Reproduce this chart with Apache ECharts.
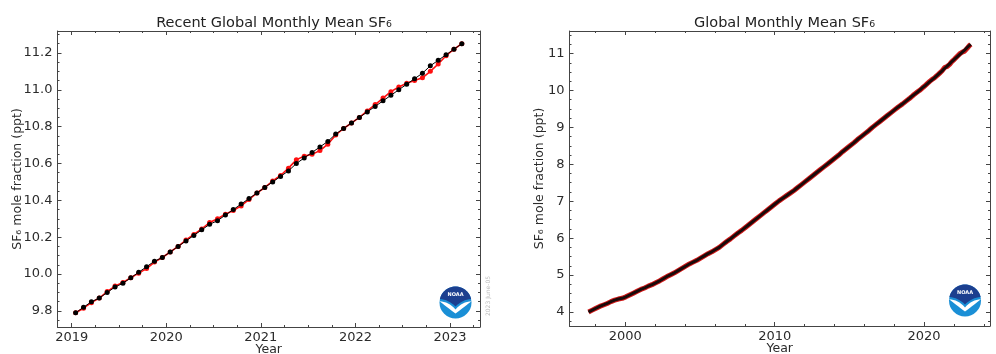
<!DOCTYPE html>
<html>
<head>
<meta charset="utf-8">
<script src="https://cdn.jsdelivr.net/npm/echarts@6/dist/echarts.min.js"></script>
<style>
html,body{margin:0;padding:0;background:#fff;}
#c{width:996px;height:354px;}
</style>
</head>
<body>
<div id="c"></div>
<script>
// ---- Recent (left) chart: monthly data ----
const recentMonths = [
 '2019-01','2019-02','2019-03','2019-04','2019-05','2019-06','2019-07','2019-08','2019-09','2019-10','2019-11','2019-12',
 '2020-01','2020-02','2020-03','2020-04','2020-05','2020-06','2020-07','2020-08','2020-09','2020-10','2020-11','2020-12',
 '2021-01','2021-02','2021-03','2021-04','2021-05','2021-06','2021-07','2021-08','2021-09','2021-10','2021-11','2021-12',
 '2022-01','2022-02','2022-03','2022-04','2022-05','2022-06','2022-07','2022-08','2022-09','2022-10','2022-11','2022-12',
 '2023-01','2023-02'
];
const recentMonthlyMean = [
 9.79, 9.815, 9.845, 9.87, 9.905, 9.935, 9.955, 9.98, 10.005, 10.03, 10.065, 10.09,
 10.12, 10.15, 10.185, 10.215, 10.245, 10.28, 10.30, 10.325, 10.345, 10.37, 10.405, 10.44,
 10.47, 10.505, 10.535, 10.575, 10.62, 10.64, 10.65, 10.67, 10.705, 10.755, 10.79, 10.82,
 10.85, 10.885, 10.92, 10.955, 10.99, 11.015, 11.035, 11.05, 11.065, 11.10, 11.14, 11.185,
 11.22, 11.25
];
const recentTrend = [
 9.79, 9.82, 9.85, 9.87, 9.90, 9.93, 9.95, 9.98, 10.01, 10.04, 10.07, 10.09,
 10.12, 10.15, 10.18, 10.21, 10.24, 10.27, 10.29, 10.32, 10.35, 10.38, 10.41, 10.44,
 10.47, 10.50, 10.53, 10.56, 10.60, 10.63, 10.66, 10.69, 10.72, 10.76, 10.79, 10.82,
 10.85, 10.88, 10.91, 10.94, 10.97, 11.00, 11.03, 11.06, 11.09, 11.13, 11.16, 11.19,
 11.22, 11.25
];
// ---- Full record (right chart), 1997-2018 read every 3 months ----
const historyMonths = [
 '1997-07','1997-10','1998-01','1998-04','1998-07','1998-10','1999-01','1999-04','1999-07','1999-10',
 '2000-01','2000-04','2000-07','2000-10','2001-01','2001-04','2001-07','2001-10','2002-01','2002-04',
 '2002-07','2002-10','2003-01','2003-04','2003-07','2003-10','2004-01','2004-04','2004-07','2004-10',
 '2005-01','2005-04','2005-07','2005-10','2006-01','2006-04','2006-07','2006-10','2007-01','2007-04',
 '2007-07','2007-10','2008-01','2008-04','2008-07','2008-10','2009-01','2009-04','2009-07','2009-10',
 '2010-01','2010-04','2010-07','2010-10','2011-01','2011-04','2011-07','2011-10','2012-01','2012-04',
 '2012-07','2012-10','2013-01','2013-04','2013-07','2013-10','2014-01','2014-04','2014-07','2014-10',
 '2015-01','2015-04','2015-07','2015-10','2016-01','2016-04','2016-07','2016-10','2017-01','2017-04',
 '2017-07','2017-10','2018-01','2018-04','2018-07','2018-10'
];
const historyValues = [
 4.00, 4.05, 4.10, 4.15, 4.19, 4.23, 4.28, 4.32, 4.35, 4.37,
 4.41, 4.46, 4.51, 4.56, 4.61, 4.65, 4.70, 4.74, 4.79, 4.84,
 4.90, 4.96, 5.01, 5.06, 5.12, 5.18, 5.24, 5.30, 5.35, 5.40,
 5.46, 5.52, 5.58, 5.63, 5.69, 5.75, 5.83, 5.91, 5.98, 6.06,
 6.14, 6.21, 6.29, 6.37, 6.45, 6.53, 6.61, 6.69, 6.77, 6.85,
 6.93, 7.01, 7.08, 7.15, 7.22, 7.29, 7.37, 7.45, 7.53, 7.61,
 7.69, 7.77, 7.85, 7.93, 8.01, 8.09, 8.17, 8.25, 8.34, 8.42,
 8.50, 8.58, 8.67, 8.75, 8.83, 8.91, 9.00, 9.08, 9.16, 9.24,
 9.32, 9.40, 9.48, 9.56, 9.63, 9.71
];
const leftTitle = 'Recent Global Monthly Mean SF₆';
const rightTitle = 'Global Monthly Mean SF₆';
const yName = 'SF₆ mole fraction (ppt)';
const xName = 'Year';
const stampText = '2023 June-05';

function toYear(s){ const p = s.split('-'); return +p[0] + (+p[1] - 0.5) / 12; }
const pairs = (m, v) => m.map((s, i) => [toYear(s), v[i]]);

const FONT = 'DejaVu Sans';
const AX = '#444';
const TXT = '#2b2b2b';

function xAx(gi, min, max, split, minorSplit, pos, showLabels){
  return {
    type:'value', gridIndex: gi, position: pos, min, max, splitNumber: split,
    axisLine:{show:true, onZero:false, lineStyle:{color:AX, width:1}},
    axisTick:{show:true, inside:true, length:4, lineStyle:{color:AX}},
    minorTick:{show:true, splitNumber:minorSplit, length:2, lineStyle:{color:AX}},
    splitLine:{show:false}, minorSplitLine:{show:false},
    axisLabel:{show:showLabels, showMinLabel:false, showMaxLabel:false, margin:4,
      color:TXT, fontFamily:FONT, fontSize:13, formatter:v=>String(v)},
    name: showLabels ? xName : '', nameLocation:'middle', nameGap:16, nameMoveOverlap:false,
    nameTextStyle:{color:TXT, fontFamily:FONT, fontSize:12.5}
  };
}
function yAx(gi, min, max, split, minorSplit, pos, showLabels, gap, fmt){
  return {
    type:'value', gridIndex: gi, position: pos, min, max, splitNumber: split,
    axisLine:{show:true, onZero:false, lineStyle:{color:AX, width:1}},
    axisTick:{show:true, inside:true, length:4, lineStyle:{color:AX}},
    minorTick:{show:true, splitNumber:minorSplit, length:2, lineStyle:{color:AX}},
    splitLine:{show:false}, minorSplitLine:{show:false},
    axisLabel:{show:showLabels, showMinLabel:false, showMaxLabel:false, margin:5,
      color:TXT, fontFamily:FONT, fontSize:13, formatter:fmt},
    name: showLabels ? yName : '', nameLocation:'middle', nameGap:gap, nameRotate:90, nameMoveOverlap:false,
    nameTextStyle:{color:TXT, fontFamily:FONT, fontSize:12.5}
  };
}

// logo geometry helpers (decoration only)
function quad(p0, p1, p2, n){
  const out = [];
  for (let i = 0; i <= n; i++){
    const t = i / n, a = (1-t)*(1-t), b = 2*(1-t)*t, c = t*t;
    out.push([a*p0[0]+b*p1[0]+c*p2[0], a*p0[1]+b*p1[1]+c*p2[1]]);
  }
  return out;
}
function arcPts(r, a0, a1, n){
  const out = [];
  for (let i = 0; i <= n; i++){
    const a = a0 + (a1 - a0) * i / n;
    out.push([r*Math.cos(a), r*Math.sin(a)]);
  }
  return out;
}
function noaaLogo(cx, cy){
  const r = 16;
  const ang = Math.asin(3.5 / r);
  const topPts = arcPts(r, Math.PI + ang, 2*Math.PI - ang, 24)
    .concat(quad([15.6,-3.5],[7,-3],[0,4],8).slice(1))
    .concat(quad([0,4],[-7,-3],[-15.6,-3.5],8).slice(1));
  const birdPts = quad([-15.9,-1.2],[-7,-1],[0,7],8)
    .concat(quad([0,7],[7,-1],[15.9,-1.2],8).slice(1))
    .concat(quad([15.9,-1.2],[10,3.5],[0,11],8).slice(1))
    .concat(quad([0,11],[-10,3.5],[-15.9,-1.2],8).slice(1));
  return {
    type:'group', x:cx, y:cy, children:[
      {type:'circle', shape:{cx:0, cy:0, r:r}, style:{fill:'#1a8fd6'}},
      {type:'polygon', shape:{points:topPts}, style:{fill:'#1c3f8f'}},
      {type:'polygon', shape:{points:birdPts}, style:{fill:'#ffffff'}},
      {type:'text', x:0, y:-8, style:{text:'NOAA', fill:'#ffffff', font:'bold 5px DejaVu Sans', align:'center', verticalAlign:'middle'}}
    ]
  };
}

const chart = echarts.init(document.getElementById('c'), null, {renderer:'canvas'});
chart.setOption({
  backgroundColor:'#ffffff',
  animation:false,
  title:[
    {text:leftTitle, left:269, top:11, textAlign:'center',
     textStyle:{fontFamily:FONT, fontSize:14.5, fontWeight:'normal', color:'#222'}},
    {text:rightTitle, left:779.5, top:11, textAlign:'center',
     textStyle:{fontFamily:FONT, fontSize:14.5, fontWeight:'normal', color:'#222'}}
  ],
  grid:[
    {left:57.5, top:31, width:422.5, height:296, outerBoundsMode:'none', containLabel:false},
    {left:569.5, top:31, width:420.5, height:295, outerBoundsMode:'none', containLabel:false}
  ],
  xAxis:[
    xAx(0, 2018.85, 2023.317, 4, 4, 'bottom', true),
    xAx(0, 2018.85, 2023.317, 4, 4, 'top', false),
    xAx(1, 1996.27, 2024.41, 3, 5, 'bottom', true),
    xAx(1, 1996.27, 2024.41, 3, 5, 'top', false)
  ],
  yAxis:[
    yAx(0, 9.713, 11.319, 8, 4, 'left', true, 33, v=>v.toFixed(1)),
    yAx(0, 9.713, 11.319, 8, 4, 'right', false, 0, v=>v.toFixed(1)),
    yAx(1, 3.62, 11.61, 8, 4, 'left', true, 23, v=>String(v)),
    yAx(1, 3.62, 11.61, 8, 4, 'right', false, 0, v=>String(v))
  ],
  series:[
    {type:'line', xAxisIndex:0, yAxisIndex:0, data:pairs(recentMonths, recentMonthlyMean),
     symbol:'circle', symbolSize:5, lineStyle:{color:'#ff1010', width:1.6},
     itemStyle:{color:'#ff1010'}, z:2},
    {type:'line', xAxisIndex:0, yAxisIndex:0, data:pairs(recentMonths, recentTrend),
     symbol:'circle', symbolSize:5, lineStyle:{color:'#000', width:1},
     itemStyle:{color:'#000'}, z:3},
    {type:'line', xAxisIndex:2, yAxisIndex:2,
     data:pairs(historyMonths, historyValues).concat(pairs(recentMonths, recentMonthlyMean)),
     symbol:'none', lineStyle:{color:'#d01818', width:5}, z:2},
    {type:'line', xAxisIndex:2, yAxisIndex:2,
     data:pairs(historyMonths, historyValues).concat(pairs(recentMonths, recentTrend)),
     symbol:'none', lineStyle:{color:'#1a0a0a', width:3}, z:3}
  ],
  graphic:[
    noaaLogo(455.5, 302.5),
    noaaLogo(965, 300.5),
    {type:'text', x:488, y:296, rotation:Math.PI/2,
     style:{text:stampText, fill:'#bbbbbb', font:'6px DejaVu Sans', align:'center', verticalAlign:'middle'}}
  ]
});
</script>
</body>
</html>
